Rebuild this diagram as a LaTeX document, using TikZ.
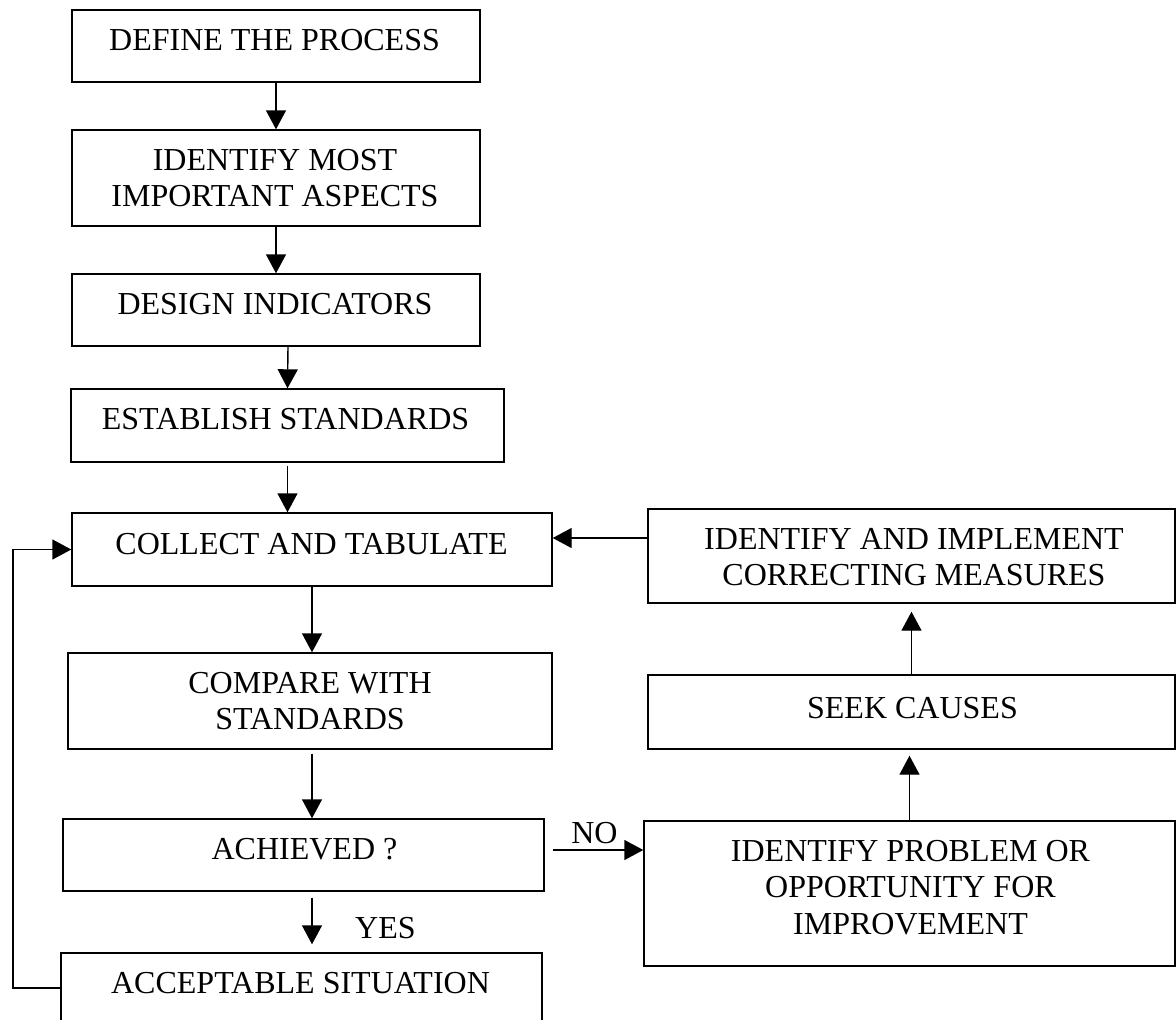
\documentclass[tikz,border=0pt]{standalone}
\usepackage{fontspec}
\setmainfont{Liberation Serif}
\usetikzlibrary{arrows.meta,calc}
\begin{document}
\begin{tikzpicture}[x=1pt,y=-1pt,
  box/.style={draw,line width=1.4pt,inner sep=0pt,anchor=center},
  txt/.style={inner sep=0pt,align=center,anchor=north,font=\fontsize{32}{36.5}\selectfont},
  arr/.style={line width=1.4pt,-{Triangle[length=19pt,width=20pt]}}]
\useasboundingbox (0,0) rectangle (1176,1020);
\clip (0,0) rectangle (1176,1020);
% boxes
\node[box,minimum width=408pt,minimum height=72pt] (b1) at (276,46) {};
\node[box,minimum width=408pt,minimum height=96pt] (b2) at (276,178) {};
\node[box,minimum width=408pt,minimum height=72pt] (b3) at (276,310) {};
\node[box,minimum width=433pt,minimum height=73pt] (b4) at (287.5,425.5) {};
\node[box,minimum width=480pt,minimum height=73pt] (b5) at (312,549.5) {};
\node[box,minimum width=484pt,minimum height=96pt] (b6) at (310,701) {};
\node[box,minimum width=481pt,minimum height=72pt] (b7) at (303.5,855) {};
\node[box,minimum width=481pt,minimum height=77pt] (b8) at (301.5,991.5) {};
\node[box,minimum width=527pt,minimum height=94pt] (b9) at (911.5,556) {};
\node[box,minimum width=527pt,minimum height=74pt] (b10) at (911.5,712) {};
\node[box,minimum width=531pt,minimum height=145pt] (b11) at (909.5,893.5) {};
% texts
\node[txt] (t1) at (274.5,29) {DEFINE THE PROCESS};
\node[txt] (t2) at (275,149) {IDENTIFY MOST\\IMPORTANT ASPECTS};
\node[txt] (t3) at (275,293) {DESIGN INDICATORS};
\node[txt] (t4) at (285.5,408) {ESTABLISH STANDARDS};
\node[txt] (t5) at (311.5,533) {COLLECT AND TABULATE};
\node[txt] (t6) at (310,672) {COMPARE WITH\\STANDARDS};
\node[txt] (t7) at (304.5,838) {ACHIEVED ?};
\node[txt] (t8) at (300.5,972) {ACCEPTABLE SITUATION};
\node[txt] (t9) at (914,528) {IDENTIFY AND IMPLEMENT\\CORRECTING MEASURES};
\node[txt] (t10) at (912.5,697) {SEEK CAUSES};
\node[txt] (t11) at (910.5,840) {IDENTIFY PROBLEM OR\\OPPORTUNITY FOR\\IMPROVEMENT};
\node[txt] (no) at (594.5,822) {NO};
\node[txt,anchor=north west] (yes) at (355,917) {YES};
% connectors
\draw[arr] (b1.south) -- (b2.north);
\draw[arr] (b2.south) -- (b3.north);
\draw[arr] ($(b3.south)+(12,0)$) -- (b4.north);
\draw[arr] ($(b4.south)+(0,3)$) -- (b4.south |- b5.north);
\draw[arr] (b5.south) -- (b5.south |- b6.north);
\draw[arr] ($(b5.south |- b6.south)+(0,4)$) -- (b5.south |- b7.north);
\draw[arr] ($(b5.south |- b7.south)+(0,6)$) -- ($(b5.south |- b8.north)+(0,-8)$);
\coordinate (nostart) at ($(b7.east)+(8,-5)$);
\draw[arr] (nostart) -- (nostart -| b11.west);
\draw[arr] (b11.north) -- ($(b11.north |- b10.south)+(0,6)$);
\draw[arr] (b10.north) -- ($(b10.north |- b9.south)+(0,8)$);
\coordinate (cm) at ($(b9.west)+(0,-18)$);
\draw[arr] (cm) -- (cm -| b5.east);
\coordinate (fb) at (13,988);
\draw[arr] (fb -| b8.west) -- (fb) |- (b5.west);
\end{tikzpicture}
\end{document}
